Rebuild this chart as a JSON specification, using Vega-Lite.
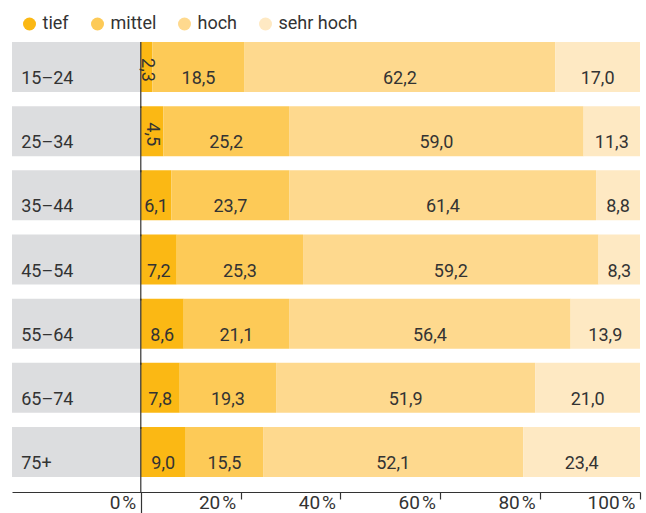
{
  "$schema": "https://vega.github.io/schema/vega-lite/v6.json",
  "width": 628,
  "height": 465,
  "autosize": "none",
  "padding": {"left": 12, "top": 27, "right": 6, "bottom": 21},
  "background": "white",
  "config": {
    "view": {"stroke": null},
    "font": "Roboto",
    "text": {"font": "Roboto", "fontSize": 18, "color": "#333333"}
  },
  "data": {
    "values": [
      {"age": "15–24", "cat": "tief", "value": 2.3},
      {"age": "15–24", "cat": "mittel", "value": 18.5},
      {"age": "15–24", "cat": "hoch", "value": 62.2},
      {"age": "15–24", "cat": "sehr hoch", "value": 17.0},
      {"age": "25–34", "cat": "tief", "value": 4.5},
      {"age": "25–34", "cat": "mittel", "value": 25.2},
      {"age": "25–34", "cat": "hoch", "value": 59.0},
      {"age": "25–34", "cat": "sehr hoch", "value": 11.3},
      {"age": "35–44", "cat": "tief", "value": 6.1},
      {"age": "35–44", "cat": "mittel", "value": 23.7},
      {"age": "35–44", "cat": "hoch", "value": 61.4},
      {"age": "35–44", "cat": "sehr hoch", "value": 8.8},
      {"age": "45–54", "cat": "tief", "value": 7.2},
      {"age": "45–54", "cat": "mittel", "value": 25.3},
      {"age": "45–54", "cat": "hoch", "value": 59.2},
      {"age": "45–54", "cat": "sehr hoch", "value": 8.3},
      {"age": "55–64", "cat": "tief", "value": 8.6},
      {"age": "55–64", "cat": "mittel", "value": 21.1},
      {"age": "55–64", "cat": "hoch", "value": 56.4},
      {"age": "55–64", "cat": "sehr hoch", "value": 13.9},
      {"age": "65–74", "cat": "tief", "value": 7.8},
      {"age": "65–74", "cat": "mittel", "value": 19.3},
      {"age": "65–74", "cat": "hoch", "value": 51.9},
      {"age": "65–74", "cat": "sehr hoch", "value": 21.0},
      {"age": "75+", "cat": "tief", "value": 9.0},
      {"age": "75+", "cat": "mittel", "value": 15.5},
      {"age": "75+", "cat": "hoch", "value": 52.1},
      {"age": "75+", "cat": "sehr hoch", "value": 23.4}
    ]
  },
  "transform": [
    {"calculate": "indexof(['tief','mittel','hoch','sehr hoch'], datum.cat)", "as": "ord"},
    {"stack": "value", "groupby": ["age"], "sort": [{"field": "ord", "order": "ascending"}], "as": ["v0", "v1"]},
    {"calculate": "(datum.v0 + datum.v1) / 2", "as": "mid"},
    {"calculate": "replace(format(datum.value, '.1f'), '.', ',')", "as": "lbl"}
  ],
  "encoding": {
    "y": {
      "field": "age",
      "type": "nominal",
      "sort": ["15–24", "25–34", "35–44", "45–54", "55–64", "65–74", "75+"],
      "scale": {"paddingInner": 0.22, "paddingOuter": 0.233},
      "axis": {
        "title": null,
        "domain": false,
        "ticks": false,
        "labelAlign": "left",
        "labelPadding": -8.7,
        "labelBaseline": "alphabetic",
        "labelOffset": 17,
        "labelFont": "Roboto",
        "labelFontSize": 18,
        "labelColor": "#333333"
      }
    }
  },
  "layer": [
    {
      "transform": [{"filter": "datum.cat == 'tief'"}],
      "mark": {"type": "rect", "color": "#dcdddf"},
      "encoding": {
        "x": {
          "datum": -25.8,
          "type": "quantitative",
          "scale": {"domain": [-25.8, 100], "nice": false, "zero": false},
          "axis": {
            "title": null,
            "grid": false,
            "values": [0, 20, 40, 60, 80, 100],
            "labelExpr": "datum.value + '\u200a%'",
            "domainColor": "#333333",
            "domainWidth": 1.2,
            "tickColor": "#333333",
            "tickWidth": 1.2,
            "tickSize": {"condition": {"test": "datum.value == 0", "value": 21}, "value": 7},
            "labelAlign": "right",
            "labelBaseline": "top",
            "labelPadding": {"condition": {"test": "datum.value == 0", "value": -20}, "value": -6},
            "labelOffset": -5,
            "labelFont": "Roboto",
            "labelFontSize": 19,
            "labelColor": "#333333"
          }
        },
        "x2": {"datum": 0}
      }
    },
    {
      "mark": {"type": "bar"},
      "encoding": {
        "x": {"field": "v0", "type": "quantitative"},
        "x2": {"field": "v1"},
        "color": {
          "field": "cat",
          "type": "nominal",
          "scale": {
            "domain": ["tief", "mittel", "hoch", "sehr hoch"],
            "range": ["#fbb814", "#fdca57", "#fed98e", "#fee9c3"]
          },
          "legend": {
            "orient": "none",
            "legendX": 8.5,
            "legendY": -12,
            "direction": "horizontal",
            "title": null,
            "symbolType": "circle",
            "symbolSize": 169,
            "symbolStrokeWidth": 0,
            "symbolOpacity": 1,
            "labelFont": "Roboto",
            "labelFontSize": 18,
            "labelColor": "#333333",
            "labelOffset": 4,
            "columnPadding": 19,
            "padding": 0
          }
        }
      }
    },
    {
      "transform": [{"filter": "datum.cat == 'tief'"}],
      "mark": {"type": "rule", "color": "#333333", "strokeWidth": 1.2},
      "encoding": {
        "x": {"datum": 0},
        "y": {"field": "age", "type": "nominal", "sort": ["15–24", "25–34", "35–44", "45–54", "55–64", "65–74", "75+"], "bandPosition": 0},
        "y2": {"field": "age", "bandPosition": 1.32}
      }
    },
    {
      "transform": [{"filter": "datum.value >= 5"}],
      "mark": {"type": "text", "align": "center", "baseline": "alphabetic"},
      "encoding": {
        "x": {"field": "mid", "type": "quantitative"},
        "y": {"field": "age", "type": "nominal", "sort": ["15–24", "25–34", "35–44", "45–54", "55–64", "65–74", "75+"], "bandPosition": 0.84},
        "text": {"field": "lbl"}
      }
    },
    {
      "transform": [{"filter": "datum.value < 5"}],
      "mark": {"type": "text", "align": "center", "baseline": "middle", "angle": 90},
      "encoding": {
        "x": {"field": "mid", "type": "quantitative"},
        "y": {"field": "age", "type": "nominal", "sort": ["15–24", "25–34", "35–44", "45–54", "55–64", "65–74", "75+"], "bandPosition": 0.56},
        "text": {"field": "lbl"}
      }
    }
  ]
}
